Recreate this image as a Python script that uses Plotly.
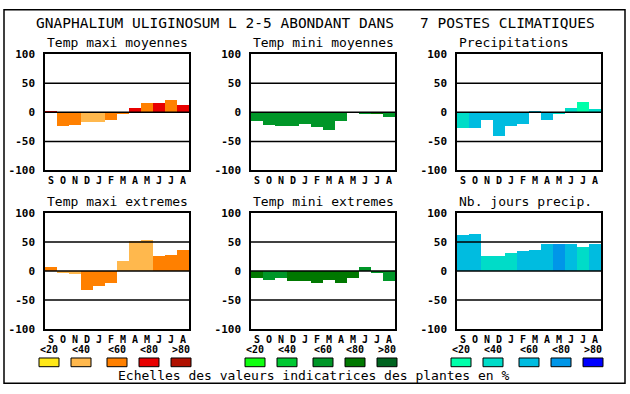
import plotly.graph_objects as go

W, H = 630, 394

months = ["S", "O", "N", "D", "J", "F", "M", "A", "M", "J", "J", "A"]

panel_titles = ["Temp maxi moyennes", "Temp mini moyennes", "Precipitations",
                "Temp maxi extremes", "Temp mini extremes", "Nb. jours precip."]

temp_maxi_moy = [2, -24, -23, -18, -18, -13, -4, 7, 15, 15, 20, 12]
temp_mini_moy = [-15, -23, -24, -24, -21, -26, -31, -16, 0, -4, -4, -8]
precipitations = [-28, -28, -13, -41, -24, -21, 2, -13, -4, 7, 17, 5]
temp_maxi_ext = [7, -3, -5, -32, -26, -21, 18, 52, 54, 26, 27, 36]
temp_mini_ext = [-12, -16, -12, -17, -17, -21, -16, -21, -12, 7, -4, -17]
nb_jours_precip = [62, 64, 26, 26, 31, 34, 36, 46, 47, 47, 42, 47]

# indicator class (1..5 -> <20, <40, <60, <80, >80) for each bar
cls_maxi_moy = [4, 3, 3, 2, 2, 3, 3, 4, 3, 4, 3, 4]
cls_mini_moy = [3, 3, 3, 3, 3, 3, 3, 3, 3, 3, 4, 3]
cls_precip = [2, 3, 3, 3, 3, 3, 3, 3, 2, 2, 1, 2]
cls_maxi_ext = [3, 2, 2, 3, 3, 3, 2, 2, 2, 3, 3, 3]
cls_mini_ext = [4, 3, 3, 4, 4, 4, 4, 4, 4, 3, 3, 3]
cls_nb_jours = [3, 3, 2, 2, 2, 3, 3, 3, 4, 3, 2, 3]

scale_labels = ["<20", "<40", "<60", "<80", ">80"]
warm_colors = ["#FFE818", "#FFB84D", "#FF8000", "#E80000", "#B01000"]
green_colors = ["#10FF10", "#00C832", "#009628", "#007800", "#006420"]
blue_colors = ["#00FFAA", "#00DCC8", "#00BCE0", "#0096E8", "#0000FF"]

caption = "Echelles des valeurs indicatrices des plantes en %"
main_title = "GNAPHALIUM ULIGINOSUM L 2-5 ABONDANT DANS   7 POSTES CLIMATIQUES"

yticks = [-100, -50, 0, 50, 100]

FONT = "DejaVu Sans Mono"

series = [temp_maxi_moy, temp_mini_moy, precipitations,
          temp_maxi_ext, temp_mini_ext, nb_jours_precip]
classes = [cls_maxi_moy, cls_mini_moy, cls_precip,
           cls_maxi_ext, cls_mini_ext, cls_nb_jours]
palettes = [warm_colors, green_colors, blue_colors]

# layout in pixels
x_px = [(45, 189), (251, 395), (457, 601)]
y_px = [(50, 170), (214, 334)]


def px_x(x):
    return x / W


def px_y(y):
    return 1 - y / H


fig = go.Figure()
shapes = []
annotations = []

for i in range(6):
    r, c = divmod(i, 3)
    n = i + 1
    xa = "xaxis" if n == 1 else f"xaxis{n}"
    ya = "yaxis" if n == 1 else f"yaxis{n}"
    xr = "x" if n == 1 else f"x{n}"
    yr = "y" if n == 1 else f"y{n}"
    pal = palettes[c]
    colors = [pal[k - 1] for k in classes[i]]
    fig.add_trace(go.Bar(
        x=list(range(len(months))), y=series[i], width=1.0,
        marker=dict(color=colors, line=dict(width=0)),
        xaxis=xr, yaxis=yr, showlegend=False, hoverinfo="y"))
    x0, x1 = x_px[c]
    y0, y1 = y_px[r]
    fig.layout[xa] = dict(
        domain=[px_x(x0), px_x(x1)], anchor=yr, range=[-0.5, 11.5],
        tickmode="array", tickvals=list(range(len(months))), ticktext=months,
        showgrid=False, zeroline=False, showline=True, mirror=True,
        linecolor="black", linewidth=1.5, ticks="", fixedrange=True,
        tickfont=dict(family=FONT, size=10, color="black", weight="bold"),
        ticklabelstandoff=0)
    fig.layout[ya] = dict(
        domain=[px_y(y1), px_y(y0)], anchor=xr, range=[-100, 100],
        tickmode="array", tickvals=yticks, ticktext=[str(v) for v in yticks],
        showgrid=False, zeroline=False, showline=True, mirror=True,
        linecolor="black", linewidth=1.5, ticks="", fixedrange=True,
        tickfont=dict(family=FONT, size=11, color="black", weight="bold"),
        ticklabelstandoff=6)
    for v in (-50, 0, 50):
        shapes.append(dict(type="line", xref=f"{xr} domain", yref=yr,
                           x0=0, x1=1, y0=v, y1=v, layer="above",
                           line=dict(color="black", width=1.5)))
    annotations.append(dict(
        text=panel_titles[i], x=px_x(x0), y=px_y(y0 - 12), xref="paper",
        yref="paper", xanchor="left", yanchor="middle", showarrow=False,
        font=dict(family=FONT, size=13, color="black")))

# legend scales
box_left = [[39, 71, 107, 139, 171], [245, 277, 313, 345, 377],
            [451, 483, 519, 551, 583]]
for c in range(3):
    for k in range(5):
        bx = box_left[c][k]
        shapes.append(dict(type="rect", xref="paper", yref="paper",
                           x0=px_x(bx), x1=px_x(bx + 20),
                           y0=px_y(373), y1=px_y(364),
                           fillcolor=palettes[c][k],
                           line=dict(color="black", width=1)))
        annotations.append(dict(
            text=scale_labels[k], x=px_x(bx + 10), y=px_y(355),
            xref="paper", yref="paper", xanchor="center", yanchor="middle",
            showarrow=False,
            font=dict(family=FONT, size=10, color="black", weight="bold")))

annotations.append(dict(
    text=caption, x=px_x(314), y=px_y(382), xref="paper", yref="paper",
    xanchor="center", yanchor="middle", showarrow=False,
    font=dict(family=FONT, size=13, color="black")))
annotations.append(dict(
    text=main_title, x=px_x(315), y=px_y(18), xref="paper", yref="paper",
    xanchor="center", yanchor="middle", showarrow=False,
    font=dict(family=FONT, size=14.5, color="black")))

# outer frame
shapes.append(dict(type="rect", xref="paper", yref="paper",
                   x0=px_x(4), x1=px_x(625), y0=px_y(390), y1=px_y(4),
                   line=dict(color="black", width=1.5), layer="above"))

fig.update_layout(
    width=W, height=H, margin=dict(l=0, r=0, t=0, b=0),
    paper_bgcolor="white", plot_bgcolor="white", bargap=0,
    shapes=shapes, annotations=annotations)

fig.write_html(
    "out.html", config={"displayModeBar": False},
    post_script="document.body.style.margin='0';"
                "document.body.style.overflow='hidden';")
